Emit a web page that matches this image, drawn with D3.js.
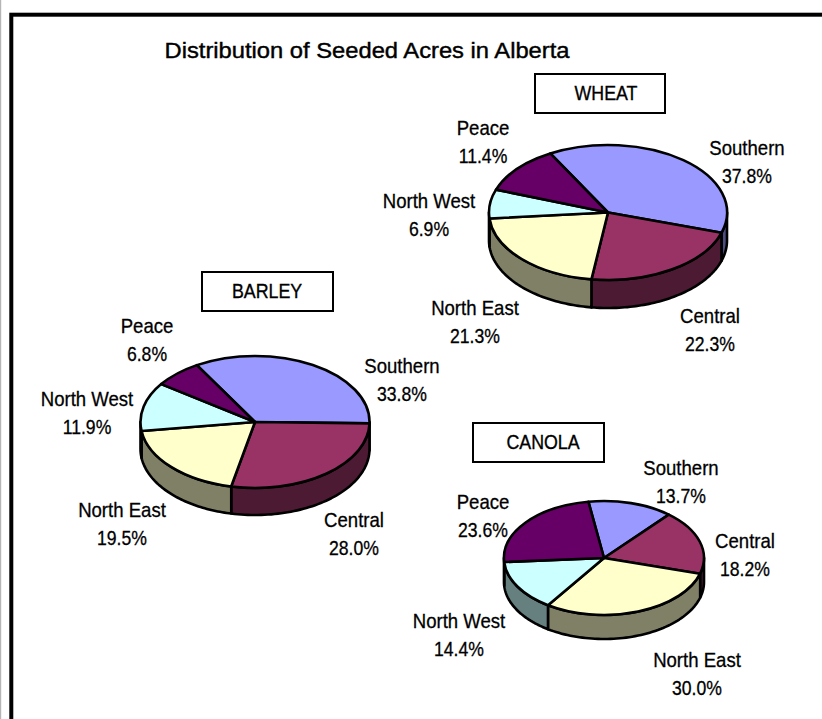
<!DOCTYPE html>
<html><head><meta charset="utf-8">
<script src="https://cdn.jsdelivr.net/npm/d3@7"></script>
<style>html,body{margin:0;padding:0;background:#fff}svg{display:block}
text{font-family:"Liberation Sans",Arial,sans-serif;fill:#000}</style></head>
<body><svg id="c" width="822" height="719"></svg>
<script>
const regions=["Southern","Central","North East","North West","Peace"];
const wheatValues=[37.8,22.3,21.3,6.9,11.4];
const barleyValues=[33.8,28.0,19.5,11.9,6.8];
const canolaValues=[13.7,18.2,30.0,14.4,23.6];
const topColors=["#9999ff","#993366","#ffffcc","#ccffff","#660066"];
const sideColors=["#4d4d80","#4d1a33","#808066","#668080","#330033"];

const charts=[
 {name:"WHEAT",values:wheatValues,cx:608,cy:212.5,rx:119,ry:67.5,depth:28,start:-29,
  box:[535,74,130,39],boxText:[606,100],
  labels:[[747,154.5],[710,322.5],[475,314.5],[429,207.5],[483,134.5]]},
 {name:"BARLEY",values:barleyValues,cx:255,cy:422,rx:114.5,ry:66,depth:27,start:-30.5,
  box:[202,272,131,39],boxText:[267,297.5],
  labels:[[402,372.5],[354,526.5],[122,516.5],[87,405.5],[147,332.5]]},
 {name:"CANOLA",values:canolaValues,cx:604,cy:558,rx:100,ry:57,depth:24,start:-9,
  box:[473,423,131,39],boxText:[543,448.5],
  labels:[[681,474.5],[745,547.5],[697,666.5],[459,627.5],[483,508.5]]}
];

const svg=d3.select("#c");
function narrowText(parent,x,y,str,size,sx,sw){
  return parent.append("text").attr("transform",`translate(${x},${y}) scale(${sx},1)`)
    .attr("text-anchor","middle").attr("font-size",size)
    .attr("stroke","#000").attr("stroke-width",sw).text(str);
}
svg.append("rect").attr("x",0).attr("y",0).attr("width",1.2).attr("height",719).attr("fill","#b5b5b5");
svg.append("rect").attr("x",11.3).attr("y",14.7).attr("width",840).attr("height",800)
  .attr("fill","#fff").attr("stroke","#000").attr("stroke-width",4);
narrowText(svg,367,57.7,"Distribution of Seeded Acres in Alberta",21.5,0.9,0.4)
  .attr("textLength",450).attr("lengthAdjust","spacingAndGlyphs");

const rad=d=>d*Math.PI/180;
charts.forEach(ch=>{
  const g=svg.append("g");
  g.append("rect").attr("x",ch.box[0]).attr("y",ch.box[1]).attr("width",ch.box[2]).attr("height",ch.box[3])
    .attr("fill","#fff").attr("stroke","#000").attr("stroke-width",2);
  narrowText(g,ch.boxText[0],ch.boxText[1],ch.name,20,0.89,0.35);

  const arcs=d3.pie().sort(null).startAngle(rad(ch.start)).endAngle(rad(ch.start+360))(ch.values);
  const yS=d3.scaleLinear().domain([-1,1]).range([ch.cy-ch.ry,ch.cy+ch.ry]);
  const xS=d3.scaleLinear().domain([-1,1]).range([ch.cx-ch.rx,ch.cx+ch.rx]);
  const wall=d3.line();
  // side walls: only the part of each slice's rim that faces the viewer
  arcs.forEach((a,i)=>{
    [[a.startAngle,a.endAngle],[a.startAngle+2*Math.PI,a.endAngle+2*Math.PI],[a.startAngle-2*Math.PI,a.endAngle-2*Math.PI]].forEach(([s,e])=>{
      const lo=Math.max(s,Math.PI/2),hi=Math.min(e,3*Math.PI/2);
      if(hi<=lo) return;
      const n=60,ang=d3.range(n+1).map(k=>lo+(hi-lo)*k/n);
      const top=ang.map(t=>[xS(Math.sin(t)),yS(-Math.cos(t))]);
      const bot=ang.slice().reverse().map(t=>[xS(Math.sin(t)),yS(-Math.cos(t))+ch.depth]);
      g.append("path").attr("d",wall(top.concat(bot))+"Z").attr("fill",sideColors[i])
        .attr("stroke","#000").attr("stroke-width",2.6).attr("stroke-linejoin","round");
    });
  });
  const arc=d3.arc().innerRadius(0).outerRadius(1);
  const pg=g.append("g").attr("transform",`translate(${ch.cx},${ch.cy}) scale(${ch.rx},${ch.ry})`);
  pg.selectAll("path").data(arcs).join("path").attr("d",arc)
    .attr("fill",(d,i)=>topColors[i]).attr("stroke","#000").attr("stroke-width",2.6)
    .attr("vector-effect","non-scaling-stroke").attr("stroke-linejoin","round");
  regions.forEach((r,i)=>{
    narrowText(g,ch.labels[i][0],ch.labels[i][1],r,20.5,0.907,0.3);
    narrowText(g,ch.labels[i][0],ch.labels[i][1]+28,ch.values[i].toFixed(1)+"%",20.5,0.86,0.3);
  });
});
</script></body></html>
